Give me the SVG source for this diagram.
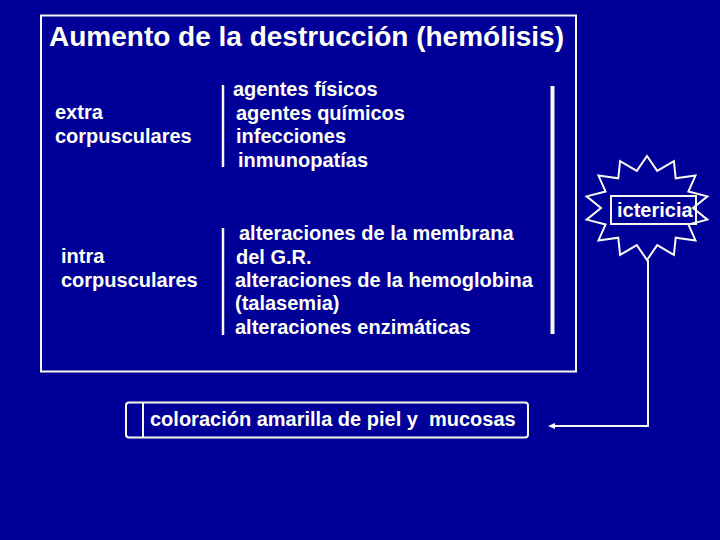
<svg xmlns="http://www.w3.org/2000/svg" width="720" height="540" viewBox="0 0 720 540">
<style>
text{font-family:"Liberation Sans",Arial,sans-serif;font-weight:bold;fill:#fffff4;font-size:20px;white-space:pre}
.ln{stroke:#f8f8ee;fill:none}
</style>
<defs>
<marker id="ah" markerWidth="8" markerHeight="8" refX="1" refY="4" orient="auto" markerUnits="userSpaceOnUse">
<path d="M0,1 L7,4 L0,7 Z" fill="#f8f8ee"/>
</marker>
</defs>
<rect width="720" height="540" fill="#000099"/>
<g id="main">
<rect class="ln" x="41" y="15.5" width="535" height="356" stroke-width="2"/>
<text x="49" y="46" style="font-size:28px">Aumento de la destrucción (hemólisis)</text>
</g>
<g id="extra">
<text x="55" y="119">extra</text>
<text x="55" y="143">corpusculares</text>
</g>
<g id="extra-list">
<line class="ln" x1="223" y1="85" x2="223" y2="167" stroke-width="2.5"/>
<text x="233" y="96">agentes físicos</text>
<text x="236" y="120">agentes químicos</text>
<text x="236" y="143">infecciones</text>
<text x="238" y="167">inmunopatías</text>
</g>
<g id="intra">
<text x="61" y="263">intra</text>
<text x="61" y="287">corpusculares</text>
</g>
<g id="intra-list">
<line class="ln" x1="223" y1="228" x2="223" y2="335" stroke-width="2.5"/>
<text x="239" y="240">alteraciones de la membrana</text>
<text x="236" y="264">del G.R.</text>
<text x="235" y="287">alteraciones de la hemoglobina</text>
<text x="235" y="310">(talasemia)</text>
<text x="235" y="334">alteraciones enzimáticas</text>
</g>
<g id="bar">
<line class="ln" x1="552.5" y1="86" x2="552.5" y2="334" stroke-width="4"/>
</g>
<g id="ictericia">
<polygon class="ln" stroke-width="2" points="647,156 657.2,170.9 673.9,161.1 675.7,178.3 695.5,175.6 688.4,191.5 707.4,196.4 693,208 707.4,219.6 688.4,224.5 695.5,240.4 675.7,237.7 673.9,254.9 657.2,245.1 647,260 636.8,245.1 620.1,254.9 618.3,237.7 598.5,240.4 605.6,224.5 586.6,219.6 601,208 586.6,196.4 605.6,191.5 598.5,175.6 618.3,178.3 620.1,161.1 636.8,170.9"/>
<rect x="611" y="196" width="85" height="28" fill="#000099" class="ln" stroke-width="2"/>
<text x="617" y="217">ictericia</text>
</g>
<g id="coloracion">
<rect class="ln" x="126" y="402.5" width="402" height="35" rx="3" stroke-width="2"/>
<line class="ln" x1="143" y1="403" x2="143" y2="437" stroke-width="2"/>
<text x="150" y="426">coloración amarilla de piel y  mucosas</text>
</g>
<g id="connectors">
<polyline class="ln" stroke-width="2" points="648,260 648,426 554,426" marker-end="url(#ah)"/>
</g>
</svg>
